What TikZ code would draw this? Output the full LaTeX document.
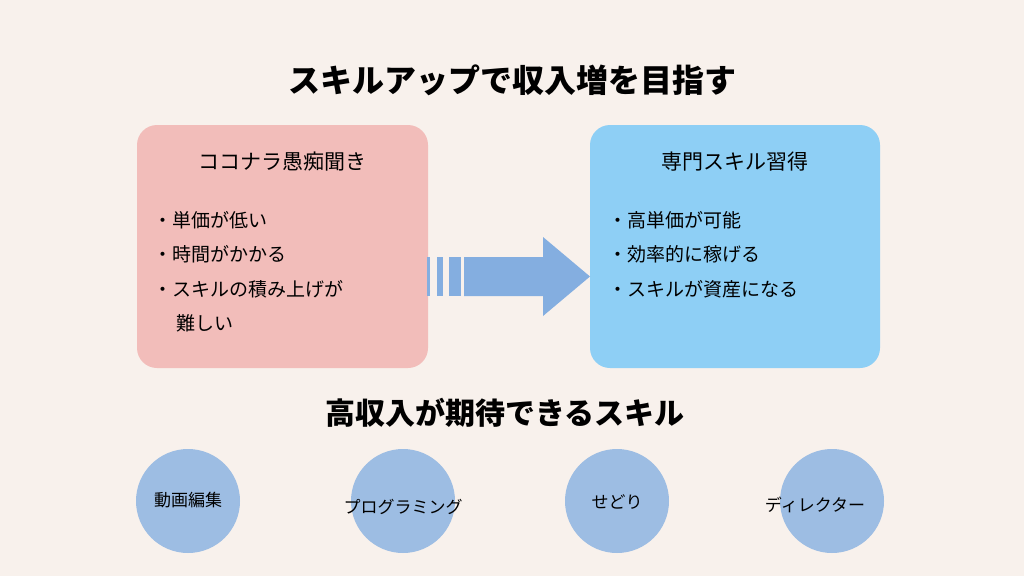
\documentclass[tikz,border=0pt]{standalone}
\usepackage{fontspec}
\setmainfont{Noto Sans CJK JP}
\definecolor{bg}{HTML}{F8F1EC}
\definecolor{pinkb}{HTML}{F2BDBA}
\definecolor{blueb}{HTML}{8ECFF5}
\definecolor{arr}{HTML}{84AEE0}
\definecolor{circ}{HTML}{9DBDE3}
\begin{document}
\begin{tikzpicture}[x=1pt,y=-1pt,
  box/.style={rounded corners=20pt},
  bul/.style={anchor=west,font=\fontsize{19}{22}\selectfont},
  btitle/.style={font=\fontsize{21}{24}\selectfont},
  circle lbl/.style={font=\fontsize{17}{20}\selectfont}]
\fill[bg] (0,0) rectangle (1024,576);
\useasboundingbox (0,0) rectangle (1024,576);
\node[font=\fontsize{32}{36}\selectfont\bfseries] (title) at (512,80) {スキルアップで収入増を目指す};
\fill[pinkb,box] (137,125) rectangle (428,368);
\fill[blueb,box] (590,125) rectangle (880,368);
\node[btitle] (lt) at (282,162) {ココナラ愚痴聞き};
\node[btitle] (rt) at (735,162) {専門スキル習得};
\node[bul] (l1) at (150,220) {・単価が低い};
\node[bul] (l2) at (150,254) {・時間がかかる};
\node[bul] (l3) at (150,289) {・スキルの積み上げが};
\node[bul] (l4) at (170,323) {\,難しい};
\node[bul] (r1) at (605,220) {・高単価が可能};
\node[bul] (r2) at (605,254) {・効率的に稼げる};
\node[bul] (r3) at (605,289) {・スキルが資産になる};
\fill[arr] (427,257) rectangle (430,296);
\fill[arr] (437,257) rectangle (443,296);
\fill[arr] (449,257) rectangle (461,296);
\fill[arr] (464,257) -- (543,257) -- (543,237) -- (590,276.5) -- (543,316) -- (543,296) -- (464,296) -- cycle;
\node[font=\fontsize{30}{34}\selectfont\bfseries] (h2) at (505,413) {高収入が期待できるスキル};
\foreach \n/\x in {c1/188,c2/403,c3/617,c4/832}{\fill[circ] (\x,501) circle (52);}
\node[circle lbl] (t1) at (188,500) {動画編集};
\node[circle lbl] (t2) at (403,507) {プログラミング};
\node[circle lbl] (t3) at (617,502) {せどり};
\node[circle lbl] (t4) at (815,505) {ディレクター};
\end{tikzpicture}
\end{document}
